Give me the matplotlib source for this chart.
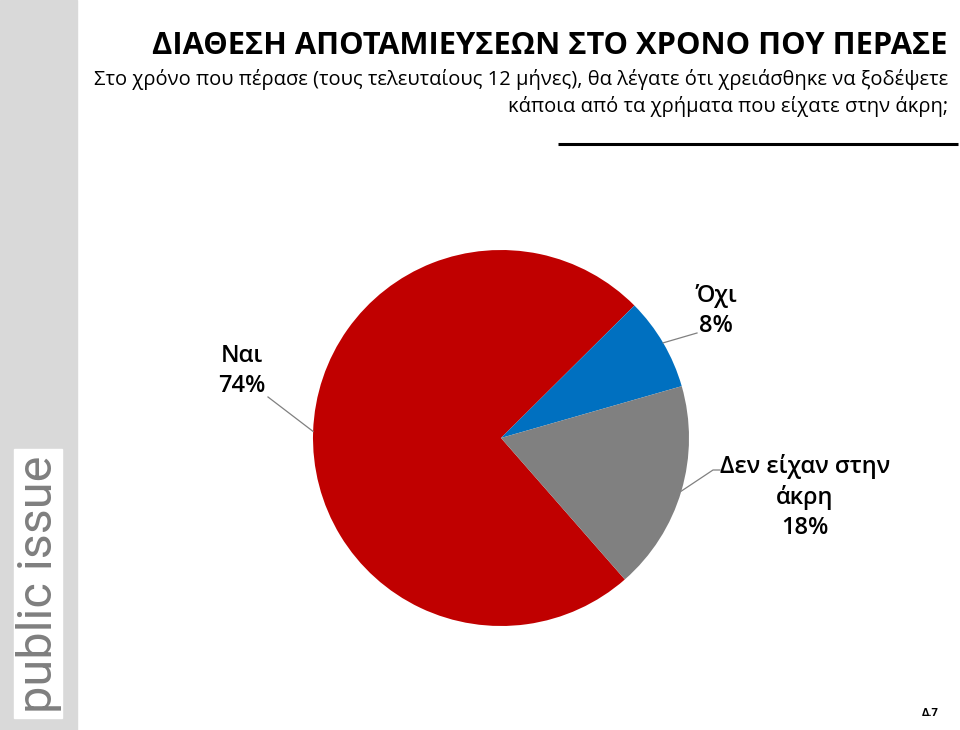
import matplotlib
matplotlib.use("Agg")
import matplotlib.pyplot as plt
import numpy as np

# Data
labels = ["Ναι", "Όχι", "Δεν είχαν στην\nάκρη"]
values = [74, 8, 18]
colors = ["#C00000", "#0070C0", "#808080"]

title = "ΔΙΑΘΕΣΗ ΑΠΟΤΑΜΙΕΥΣΕΩΝ ΣΤΟ ΧΡΟΝΟ ΠΟΥ ΠΕΡΑΣΕ"
subtitle = ("Στο χρόνο που πέρασε (τους τελευταίους 12 μήνες), θα λέγατε ότι χρειάσθηκε να ξοδέψετε\n"
            "κάποια από τα χρήματα που είχατε στην άκρη;")

W, H = 960, 730
plt.rcParams['font.family'] = ["Open Sans", "DejaVu Sans"]

fig = plt.figure(figsize=(9.6, 7.3), dpi=100)
ax = fig.add_axes([0, 0, 1, 1])

# left brand strip
ax.add_patch(plt.Rectangle((0, 0), 77, H, color="#D9D9D9", zorder=0))
ax.add_patch(plt.Rectangle((14, H - 718), 48, 269, color="white", zorder=1))
ax.text(39, H - 584, "public issue", rotation=90, ha="center", va="center",
        fontsize=35, color="#7F7F7F",
        family=["Roboto", "DejaVu Sans"], zorder=2)

# titles
ax.text(948, H - 46, title, ha="right", va="center", fontsize=22.2, fontweight="bold")
ax.text(948, H - 93, subtitle, ha="right", va="center", fontsize=14.5,
        linespacing=1.4)
ax.plot([558, 958], [H - 144, H - 144], color="black", lw=2.2, solid_capstyle="butt")

# pie
cx, cy, r = 501, H - 438, 188
wedges, _ = ax.pie(values, colors=colors, startangle=311.2, counterclock=False,
                   center=(cx, cy), radius=r, frame=True,
                   wedgeprops=dict(linewidth=0))

# label positions (layout) and leader elbows
label_pos = [(242, H - 371), (716, H - 311), (805, H - 497)]
elbows = [[(268, H - 397)], [(697, H - 333)], [(713, H - 470), (720, H - 470)]]
for w, lab, v, (tx, ty), el in zip(wedges, labels, values, label_pos, elbows):
    mid = np.deg2rad((w.theta1 + w.theta2) / 2)
    px, py = cx + r * np.cos(mid), cy + r * np.sin(mid)
    xs = [px] + [e[0] for e in el]
    ys = [py] + [e[1] for e in el]
    ax.plot(xs, ys, color="#808080", lw=0.9)
    ax.text(tx, ty, f"{lab}\n{v}%", ha="center", va="center", fontsize=17,
            fontweight="semibold", linespacing=1.3, color="black")

ax.text(930, H - 713, "Δ.7", ha="center", va="center", fontsize=8, fontweight="bold")

ax.set_xlim(0, W)
ax.set_ylim(0, H)
ax.set_aspect("auto")
ax.set_axis_off()

fig.savefig("out.png", dpi=100)
